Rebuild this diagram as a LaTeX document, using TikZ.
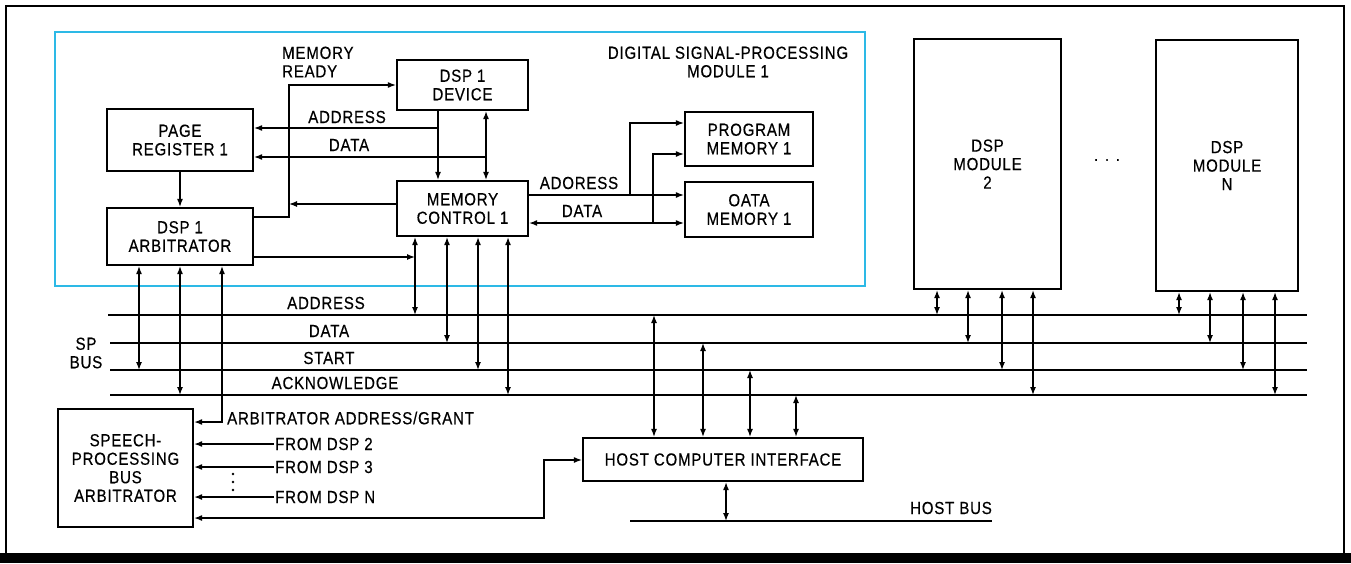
\documentclass[tikz,border=0pt]{standalone}
\usepackage{fontspec}
\setmainfont{Liberation Sans}[FakeStretch=0.86,FakeBold=0.4,LetterSpace=4.5]
\usetikzlibrary{arrows.meta,calc}
\definecolor{modcyan}{RGB}{45,185,230}
\begin{document}
\begin{tikzpicture}[x=1pt,y=-1pt,
  font=\fontsize{17.5}{18.5}\selectfont,
  box/.style={draw,line width=2.2pt,inner sep=0pt,align=center},
  ln/.style={line width=1.3pt},
  arr/.style={ln,-{Latex[length=8pt,width=6pt]}},
  dbl/.style={ln,{Latex[length=8pt,width=6pt]}-{Latex[length=8pt,width=6pt]}},
  lbl/.style={inner sep=1pt,align=center}]
\useasboundingbox (0,0) rectangle (1351,563);
% outer frame
\draw[line width=1.6pt] (1344,556) -- (1344,6) -- (6,6) -- (6,556);
\fill (0,553) rectangle (1351,563);
% module 1 frame
\draw[modcyan,line width=2.6pt] (55,32) rectangle (865,286);
\node[lbl] (t1) at (728,62) {DIGITAL SIGNAL-PROCESSING\\MODULE 1};
% boxes
\node[box,minimum width=146,minimum height=62] (pr) at (180,140) {PAGE\\REGISTER 1};
\node[box,minimum width=146,minimum height=57] (arb) at (180,236.5) {DSP 1\\ARBITRATOR};
\node[box,minimum width=131,minimum height=50] (dev) at (462.5,85) {DSP 1\\DEVICE};
\node[box,minimum width=131,minimum height=55] (mc) at (462.5,208.5) {MEMORY\\CONTROL 1};
\node[box,minimum width=128,minimum height=54] (pm) at (749,139) {PROGRAM\\MEMORY 1};
\node[box,minimum width=128,minimum height=55] (dm) at (749,209.5) {OATA\\MEMORY 1};
\node[box,minimum width=147,minimum height=250] (m2) at (987.5,164) {DSP\\MODULE\\2};
\node[box,minimum width=142,minimum height=251] (mn) at (1227,165.5) {DSP\\MODULE\\N};
\node[lbl] (dots) at (1107,160) {. . .};
\node[box,minimum width=135,minimum height=118] (spa) at (125.5,468) {SPEECH-\\PROCESSING\\BUS\\ARBITRATOR};
\node[box,minimum width=280,minimum height=43] (hci) at (723,459.5) {HOST COMPUTER INTERFACE};
% module internal connections
\draw[arr] (pr.south) -- (arb.north);
\coordinate (d1) at (438,128);
\coordinate (d2) at (486,157);
\draw[arr] (dev.south -| d1) -- (mc.north -| d1);
\draw[arr] (d1) -- (pr.east |- d1);
\draw[dbl] (dev.south -| d2) -- (mc.north -| d2);
\draw[arr] (d2) -- (pr.east |- d2);
\node[lbl] (la1) at (347,117) {ADDRESS};
\node[lbl] (ld1) at (349,145) {DATA};
\coordinate (mr1) at (289,217);
\coordinate (mr2) at (289,85);
\coordinate (mr3) at (289,204);
\draw[arr] (arb.east |- mr1) -- (mr1) -- (mr2) -- (dev.west |- mr2);
\draw[arr] (mc.west |- mr3) -- (mr3);
\node[lbl,anchor=west,align=left] (lmr) at (281,62) {MEMORY\\READY};
\coordinate (ab) at (415,257);
\draw[arr] (arb.east |- ab) -- (ab);
% memory control to memories
\coordinate (ma) at (630,195);
\coordinate (ma2) at (630,123);
\coordinate (md) at (653,223);
\coordinate (md2) at (653,154);
\draw[arr] (mc.east |- ma) -- (dm.west |- ma);
\draw[arr] (ma) -- (ma2) -- (pm.west |- ma2);
\draw[dbl] (mc.east |- md) -- (dm.west |- md);
\draw[arr] (md) -- (md2) -- (pm.west |- md2);
\node[lbl] (la2) at (579,183) {ADORESS};
\node[lbl] (ld2) at (582,211) {DATA};
% SP bus lines
\coordinate (Al) at (108,315); \coordinate (Ar) at (1307,315);
\coordinate (Dl) at (110,343); \coordinate (Dr) at (1307,343);
\coordinate (Sl) at (110,370); \coordinate (Sr) at (1307,370);
\coordinate (Kl) at (110,395); \coordinate (Kr) at (1307,395);
\draw[ln] (Al) -- (Ar);
\draw[ln] (Dl) -- (Dr);
\draw[ln] (Sl) -- (Sr);
\draw[ln] (Kl) -- (Kr);
\node[lbl] (lbA) at (326,303) {ADDRESS};
\node[lbl] (lbD) at (329,331) {DATA};
\node[lbl] (lbS) at (329,358) {START};
\node[lbl] (lbK) at (335,383) {ACKNOWLEDGE};
\node[lbl] (spbus) at (86,353) {SP\\BUS};
% arbitrator to bus
\coordinate (s1) at (139,370);
\coordinate (s2) at (180,395);
\coordinate (g1) at (222,422);
\draw[dbl] (arb.south -| s1) -- (s1);
\draw[dbl] (arb.south -| s2) -- (s2);
\draw[dbl] (arb.south -| g1) -- (g1) -- (spa.east |- g1);
\node[lbl,anchor=west] (lg) at (226,418) {ARBITRATOR ADDRESS/GRANT};
% memory control to bus
\coordinate (c1) at (415,315);
\coordinate (c2) at (447,343);
\coordinate (c3) at (478,370);
\coordinate (c4) at (508,395);
\draw[dbl] (mc.south -| c1) -- (c1);
\draw[dbl] (mc.south -| c2) -- (c2);
\draw[dbl] (mc.south -| c3) -- (c3);
\draw[dbl] (mc.south -| c4) -- (c4);
% other DSP modules to bus
\foreach \x/\y [count=\i] in {937/315,968/343,1002/370,1033/395}{
  \coordinate (p\i) at (\x,\y);
  \draw[dbl] (m2.south -| p\i) -- (p\i);}
\foreach \x/\y [count=\i] in {1179/315,1210/343,1243/370,1275/395}{
  \coordinate (q\i) at (\x,\y);
  \draw[dbl] (mn.south -| q\i) -- (q\i);}
% host interface to bus
\foreach \x/\y [count=\i] in {654/315,703/343,750/370,796/395}{
  \coordinate (b\i) at (\x,\y);
  \draw[dbl] (hci.north -| b\i) -- (b\i);}
% host bus
\coordinate (hbl) at (630,521);
\coordinate (hbr) at (992,521);
\coordinate (hb) at (726,521);
\draw[ln] (hbl) -- (hbr);
\draw[dbl] (hci.south -| hb) -- (hb);
\node[lbl] (lhb) at (951,508) {HOST BUS};
% speech arbitrator inputs
\node[lbl,anchor=west] (f2) at (274,444) {FROM DSP 2};
\node[lbl,anchor=west] (f3) at (274,467) {FROM DSP 3};
\node[lbl,anchor=west] (fn) at (274,497) {FROM DSP N};
\draw[arr] (f2.west) -- (spa.east |- f2.west);
\draw[arr] (f3.west) -- (spa.east |- f3.west);
\draw[arr] (fn.west) -- (spa.east |- fn.west);
\foreach \yy in {474,482,490} \fill (233,\yy) circle (1.4pt);
\coordinate (h1) at (544,518);
\coordinate (h2) at (544,460);
\draw[dbl] (spa.east |- h1) -- (h1) -- (h2) -- (hci.west |- h2);
\end{tikzpicture}
\end{document}
